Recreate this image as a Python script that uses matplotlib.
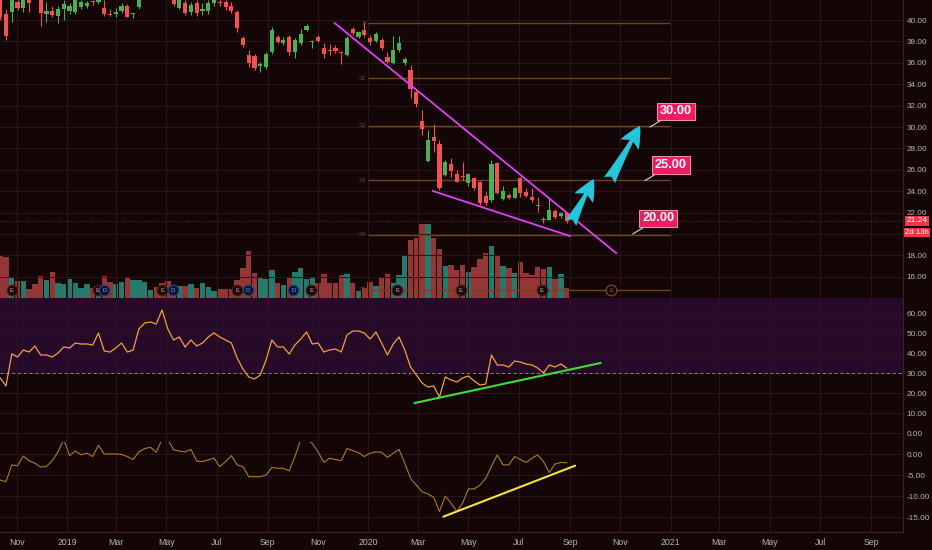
import numpy as np
import pandas as pd
import matplotlib.pyplot as plt
from matplotlib.patches import FancyArrowPatch

# ------------------------------------------------------------
# data (weekly bars)
# ------------------------------------------------------------
first_bar = pd.Timestamp('2018-10-12')
n_bars = 99

opens = [42.3, 40.6, 40.75, 41.7, 41.1, 42.0, 42.8, 42.6, 40.55, 40.85,
         40.35, 41.05, 40.85, 40.75, 41.2, 41.3, 41.7, 41.7, 41.1, 40.5,
         40.55, 40.85, 41.3, 40.55, 41.2, 42.2, 43.0, 43.6, 45.0, 44.3,
         42.3, 41.1, 41.6, 40.75, 41.6, 40.85, 40.85, 41.6, 41.65, 41.7,
         41.3, 40.75, 38.3, 36.75, 36.65, 35.7, 35.6, 37.0, 38.4, 37.85,
         38.4, 37.0, 37.85, 39.05, 37.95, 38.4, 37.4, 37.15, 37.4, 37.0,
         36.75, 39.15, 38.4, 39.05, 38.3, 38.05, 38.15, 36.55, 36.0, 37.2,
         36.0, 35.35, 33.25, 30.55, 26.8, 29.05, 28.4, 25.5, 26.55, 25.6,
         25.35, 24.75, 25.25, 24.85, 23.55, 23.2, 26.65, 23.25, 23.65, 23.35,
         25.25, 23.95, 23.45, 22.65, 21.35, 21.3, 22.15, 21.7, 21.95]
highs = [42.6, 41.0, 42.4, 41.9, 42.3, 42.5, 43.2, 43.0, 41.7, 41.3,
         41.3, 41.9, 41.6, 42.2, 41.9, 41.75, 41.9, 42.4, 41.9, 41.0,
         41.1, 41.6, 41.5, 40.65, 42.5, 43.5, 43.8, 43.9, 45.5, 44.5,
         42.6, 42.3, 41.9, 41.7, 41.9, 41.6, 41.9, 42.3, 41.95, 41.9,
         41.7, 40.9, 38.5, 37.2, 36.8, 36.1, 37.0, 39.3, 38.6, 38.4,
         38.6, 38.3, 39.15, 39.65, 38.15, 38.6, 37.85, 37.75, 37.65, 37.05,
         38.5, 39.3, 39.0, 39.8, 38.6, 38.9, 38.3, 37.0, 38.5, 38.5,
         36.55, 35.8, 33.4, 31.6, 29.7, 30.3, 28.8, 26.9, 27.1, 26.0,
         26.75, 25.7, 25.35, 25.0, 23.95, 26.9, 26.7, 24.5, 23.85, 24.4,
         25.35, 24.3, 24.3, 23.45, 21.6, 23.35, 22.35, 22.05, 22.0]
lows = [40.0, 38.1, 39.8, 40.9, 40.75, 40.75, 42.0, 39.4, 39.8, 40.3,
        39.7, 40.0, 40.6, 40.6, 41.0, 41.1, 41.4, 41.5, 40.4, 40.35,
        40.3, 40.7, 40.25, 40.2, 41.0, 42.0, 42.6, 42.7, 43.0, 42.3,
        41.3, 41.0, 40.45, 40.5, 40.4, 40.45, 40.6, 41.3, 41.3, 40.9,
        40.7, 38.9, 37.5, 35.6, 35.3, 35.15, 35.4, 36.8, 37.85, 37.65,
        36.75, 36.45, 37.7, 38.95, 37.4, 37.9, 36.45, 36.75, 36.9, 35.9,
        36.6, 38.6, 38.3, 38.4, 37.65, 37.9, 37.2, 35.95, 35.9, 37.0,
        35.8, 32.7, 31.85, 29.25, 26.7, 27.65, 24.1, 25.4, 25.35, 24.85,
        25.05, 24.5, 24.1, 22.7, 22.7, 23.0, 23.75, 23.2, 23.25, 23.35,
        23.45, 23.45, 23.0, 22.05, 21.05, 21.3, 21.4, 21.5, 21.05]
closes = [40.3, 38.5, 42.1, 41.1, 42.0, 41.6, 42.4, 40.65, 40.85, 40.45,
          41.05, 41.5, 41.3, 42.0, 41.7, 41.6, 41.65, 42.1, 40.55, 40.45,
          40.75, 41.3, 40.3, 40.6, 42.2, 43.0, 43.3, 43.2, 44.5, 42.8,
          41.5, 42.0, 40.65, 41.4, 40.65, 41.05, 41.6, 42.0, 41.55, 41.2,
          40.85, 39.25, 37.65, 36.0, 35.5, 35.9, 36.8, 39.05, 37.95, 38.15,
          37.0, 38.15, 38.7, 39.45, 38.0, 38.05, 36.8, 37.1, 37.1, 36.92,
          38.3, 38.8, 38.9, 38.6, 37.95, 38.7, 37.4, 36.1, 37.2, 37.85,
          36.35, 33.55, 32.15, 29.8, 28.8, 28.7, 24.3, 26.75, 25.9, 24.85,
          25.3, 25.6, 24.3, 22.9, 22.9, 26.55, 23.85, 24.0, 23.35, 24.3,
          23.85, 23.55, 23.2, 22.6, 21.3, 22.25, 21.6, 21.95, 21.24]
volume = [43, 41, 21, 17, 17, 9, 14, 22, 18, 26,
          15, 14, 19, 15, 10, 14, 10, 13, 22, 16,
          14, 16, 20, 18, 18, 16, 8, 11, 15, 17,
          13, 12, 12, 14, 10, 15, 11, 7, 9, 9,
          9, 18, 30, 47, 25, 20, 19, 28, 15, 13,
          21, 26, 30, 19, 21, 15, 24, 15, 15, 23,
          24, 15, 7, 10, 16, 12, 20, 24, 15, 23,
          42, 58, 60, 74, 74, 60, 49, 32, 33, 28,
          33, 26, 31, 39, 45, 52, 42, 32, 30, 25,
          36, 25, 23, 31, 29, 31, 19, 24, 10]
rsi = [27.5, 23.5, 39.5, 38, 41.5, 40.5, 43.5, 39, 39, 38,
       40, 43, 42.5, 45, 44.5, 44.5, 44, 50, 41, 40.5,
       42.5, 45, 40.5, 41.5, 52, 55, 55.5, 54.5, 61.5, 52,
       46.5, 48, 43, 46.5, 43.5, 45, 48, 50, 48, 46.5,
       45, 37.5, 32, 28, 27, 29, 36.5, 46.5, 43, 43,
       39.5, 44, 47, 50.5, 44.5, 45, 40.5, 41.5, 42, 40.5,
       49, 51, 51, 50, 47, 50.5, 45, 39, 44.5, 48,
       41.5, 33, 29, 25, 23, 23.5, 18, 28, 26.5, 25.5,
       27.5, 28.5, 26, 24, 24.5, 39, 34, 34, 33, 36,
       35.5, 34.5, 34, 32.5, 30, 34, 33, 34.5, 32.5]
osc = [-6.2, -6.6, -2.6, -2.8, -0.5, -1.6, -2.2, -3.1, -3.0, -1.6,
       0.5, 3.5, -0.4, 0.7, -0.2, 0.2, -0.6, 2.1, 0.0, 0.0,
       0.0, -0.1, -0.6, -1.3, 0.5, 1.3, 1.6, 0.4, 3.5, 3.5,
       1.0, 0.7, 0.5, 1.1, -1.7, -1.8, -1.4, -1.0, -3.0, -1.8,
       -0.4, -2.6, -3.0, -5.4, -5.4, -5.4, -5.0, -3.2, -3.4, -3.4,
       -4.0, -0.6, 3.5, 3.5, 2.5, 0.5, -2.0, -1.0, -1.3, -1.6,
       1.3, 0.8, 0.3, -0.6, 0.2, 0.5, 0.4, -0.8, 0.2, 1.1,
       -2.2, -5.8, -7.4, -9.0, -9.5, -10.3, -13.7, -10.0, -11.7, -13.7,
       -11.7, -8.3, -8.3, -7.4, -5.8, -2.9, -0.2, -2.6, -2.6, -0.6,
       -1.3, -2.0, -1.0, -0.2, -1.8, -4.4, -2.4, -2.0, -2.1]

# yearly pivots for 2020
pivot_names = ['P', 'S1', 'S2', 'S3', 'S4', 'S5']
pivot_values = [39.69, 34.55, 30.12, 25.02, 19.91, 14.77]
pivot_start, pivot_end = '2020-01-01', '2020-12-31'

# drawings
wedge_upper = (('2019-11-21', 39.72), ('2020-10-27', 18.22))
wedge_lower = (('2020-03-19', 24.02), ('2020-09-01', 19.81))
arrows = [(('2020-09-02', 21.03), ('2020-09-30', 25.14)),
          (('2020-10-19', 25.05), ('2020-11-25', 30.12))]
target_labels = ['30.00', '25.00', '20.00']
target_prices = [30.0, 25.0, 20.0]
target_dates = ['2020-12-07', '2020-12-01', '2020-11-16']
rsi_trend = (('2020-02-26', 15.0), ('2020-10-08', 35.0))
osc_trend = (('2020-04-01', -14.9), ('2020-09-07', -2.8))
countdown = '2d 13h'

# earnings (E) and dividends (D)
event_dates = ['2018-10-26', '2019-02-07', '2019-02-15', '2019-04-26', '2019-05-09',
               '2019-07-26', '2019-08-08', '2019-10-02', '2019-10-24', '2020-02-05',
               '2020-04-22', '2020-07-29', '2020-10-21']
event_kinds = ['E', 'E', 'D', 'E', 'D', 'E', 'D', 'D', 'E', 'E', 'E', 'E', 'E']

price_ticks = [16, 18, 20, 22, 24, 26, 28, 30, 32, 34, 36, 38, 40]
rsi_ticks = [0, 10, 20, 30, 40, 50, 60]
osc_ticks = [-15, -10, -5, 0]
month_ticks = pd.date_range('2018-11-01', '2021-09-01', freq='2MS')

# ------------------------------------------------------------
# style
# ------------------------------------------------------------
BG = '#140506'
GRID = '#2a1517'
UP, DN = '#4caf50', '#ef5350'
VUP, VDN = '#26796b', '#933636'
PIV = '#6e4424'
MAG = '#e040fb'
CYAN = '#26c6da'
TXT = '#b2b5be'
TAG = '#f23645'

plt.rcParams['font.family'] = ['Liberation Sans', 'DejaVu Sans']


def wk(d):
    return (pd.Timestamp(d) - first_bar).days / 7.0


x = np.arange(n_bars)
O, H, L, C = map(np.array, (opens, highs, lows, closes))
up = C >= O
cols = np.where(up, UP, DN)
vcols = np.where(up, VUP, VDN)

fig = plt.figure(figsize=(9.32, 5.5), dpi=100, facecolor=BG)
W = 903 / 932
ax_p = fig.add_axes([0, 252 / 550, W, 298 / 550])
ax_r = fig.add_axes([0, 108 / 550, W, 144 / 550], sharex=ax_p)
ax_b = fig.add_axes([0, 18 / 550, W, 90 / 550], sharex=ax_p)

# volume behind candles
ax_v = ax_p.twinx()
ax_v.set_zorder(1)
ax_p.set_zorder(2)
ax_p.patch.set_visible(False)
ax_v.patch.set_facecolor(BG)
ax_v.bar(x, volume, width=0.93, color=vcols, linewidth=0)
ax_v.set_ylim(0, 298)
ax_v.set_yticks([])
for s in ax_v.spines.values():
    s.set_visible(False)

for ax in (ax_p, ax_r, ax_b):
    ax.set_facecolor(BG)
    ax.set_axisbelow(True)
    ax.grid(True, color=GRID, linewidth=0.7)
    for s in ax.spines.values():
        s.set_visible(False)
    ax.yaxis.tick_right()
    ax.tick_params(axis='y', length=0, pad=2.5, labelsize=5.9, labelcolor=TXT)
    ax.tick_params(axis='x', length=0, pad=4, labelsize=6.3, labelcolor=TXT)

# ------------------------------------------------------------
# price pane
# ------------------------------------------------------------
ax_p.vlines(x, L, H, color=cols, linewidth=0.8, zorder=3)
ax_p.bar(x, np.maximum(np.abs(C - O), 0.08), bottom=np.minimum(O, C),
         width=0.72, color=cols, linewidth=0, zorder=4)

ax_p.hlines(pivot_values, wk(pivot_start), wk(pivot_end), color=PIV,
            linewidth=1.0, zorder=2)
for nm, pv in zip(pivot_names, pivot_values):
    ax_p.text(wk(pivot_start) - 0.4, pv, nm, ha='right', va='center',
              fontsize=4.3, color=PIV, zorder=2)

ax_p.axhline(C[-1], color=DN, linestyle=':', linewidth=0.6, alpha=0.5, zorder=2)

for (d1, p1), (d2, p2) in (wedge_upper, wedge_lower):
    ax_p.plot([wk(d1), wk(d2)], [p1, p2], color=MAG, linewidth=1.3, zorder=5)

for (d1, p1), (d2, p2) in arrows:
    ax_p.add_patch(FancyArrowPatch((wk(d1), p1), (wk(d2), p2),
                                   arrowstyle='fancy,head_length=1.3,head_width=1.25,tail_width=0.75',
                                   mutation_scale=12, color=CYAN, linewidth=0,
                                   shrinkA=0, shrinkB=0, zorder=6))

for lab, d, pv in zip(target_labels, target_dates, target_prices):
    ax_p.annotate(lab, xy=(wk(d), pv), xytext=(18.5, 11.2), textcoords='offset points',
                  ha='center', va='center', fontsize=9.2, fontweight='bold', color='white',
                  bbox=dict(boxstyle='square,pad=0.22', fc='#e91e63', ec='#f48fb1', lw=0.7),
                  arrowprops=dict(arrowstyle='-', color='#d8d8d8', lw=0.8,
                                  shrinkA=0, shrinkB=0),
                  zorder=7)

# events along the bottom of the price pane
trans = ax_p.get_xaxis_transform()
last_x = x[-1]
for d, kind in zip(event_dates, event_kinds):
    ex = wk(d)
    if ex > last_x:
        fc, ec, tc = BG, '#8a4a2a', '#a0603a'
    elif kind == 'E':
        fc, ec, tc = '#1c0707', '#4f2020', '#c9b3b3'
    else:
        fc, ec, tc = '#0c1635', '#26428a', '#7d9ce6'
    ax_p.scatter([ex], [8 / 298], s=60, transform=trans, facecolor=fc,
                 edgecolor=ec, linewidth=0.8, zorder=6, clip_on=False)
    ax_p.text(ex, 8 / 298, kind, transform=trans, ha='center', va='center',
              fontsize=4.2, color=tc, zorder=7)

ax_p.set_ylim(14.02, 41.87)
ax_p.set_yticks(price_ticks)
# the 20.00 label sits under the countdown tag in the reference
ax_p.set_yticklabels(['' if v == 20 else f'{v:.2f}' for v in price_ticks])

# last price tags on the scale
ytr = ax_p.get_yaxis_transform()
ax_p.annotate(f'{C[-1]:.2f}', xy=(1, C[-1]), xycoords=ytr, xytext=(2.5, 0),
              textcoords='offset points', ha='left', va='center', fontsize=6,
              color='white', bbox=dict(boxstyle='square,pad=0.18', fc=TAG, ec='none'),
              annotation_clip=False, zorder=8)
ax_p.annotate(countdown, xy=(1, C[-1]), xycoords=ytr, xytext=(1.5, -8.4),
              textcoords='offset points', ha='left', va='center', fontsize=5.6,
              color='white', bbox=dict(boxstyle='square,pad=0.18', fc=TAG, ec='none'),
              annotation_clip=False, zorder=8)

# ------------------------------------------------------------
# RSI pane
# ------------------------------------------------------------
ax_r.axhspan(30, 70, color='#270a2a', zorder=0)
ax_r.axhline(30, color='#8a8a8a', linestyle=(0, (3, 3)), linewidth=0.7, zorder=1)
ax_r.plot(x, rsi, color='#f0a040', linewidth=0.9, zorder=3)
(d1, v1), (d2, v2) = rsi_trend
ax_r.plot([wk(d1), wk(d2)], [v1, v2], color='#3ddc3d', linewidth=1.5, zorder=4)
ax_r.set_ylim(-4.5, 67.5)
ax_r.set_yticks(rsi_ticks)
ax_r.set_yticklabels([f'{v:.2f}' for v in rsi_ticks])
ax_r.spines['bottom'].set_visible(True)
ax_r.spines['bottom'].set_color('#3a2528')

# ------------------------------------------------------------
# lower oscillator pane
# ------------------------------------------------------------
ax_b.plot(x, osc, color='#a87b2c', linewidth=0.8, zorder=3)
(d1, v1), (d2, v2) = osc_trend
ax_b.plot([wk(d1), wk(d2)], [v1, v2], color='#f5e23b', linewidth=1.5, zorder=4)
ax_b.set_ylim(-18.57, 2.86)
ax_b.set_yticks(osc_ticks)
ax_b.set_yticklabels([f'{v:.2f}' for v in osc_ticks])
ax_b.spines['bottom'].set_visible(True)
ax_b.spines['bottom'].set_color('#3a2528')

for ax in (ax_p, ax_r, ax_b):
    ax.spines['right'].set_visible(True)
    ax.spines['right'].set_color('#3a2528')

# time axis
ax_b.set_xticks([wk(d) for d in month_ticks])
ax_b.set_xticklabels([str(d.year) if d.month == 1 else d.strftime('%b') for d in month_ticks])
ax_p.tick_params(labelbottom=False)
ax_r.tick_params(labelbottom=False)
ax_p.set_xlim(-0.035, 156.2)

fig.savefig('out.png', dpi=100, facecolor=BG)
